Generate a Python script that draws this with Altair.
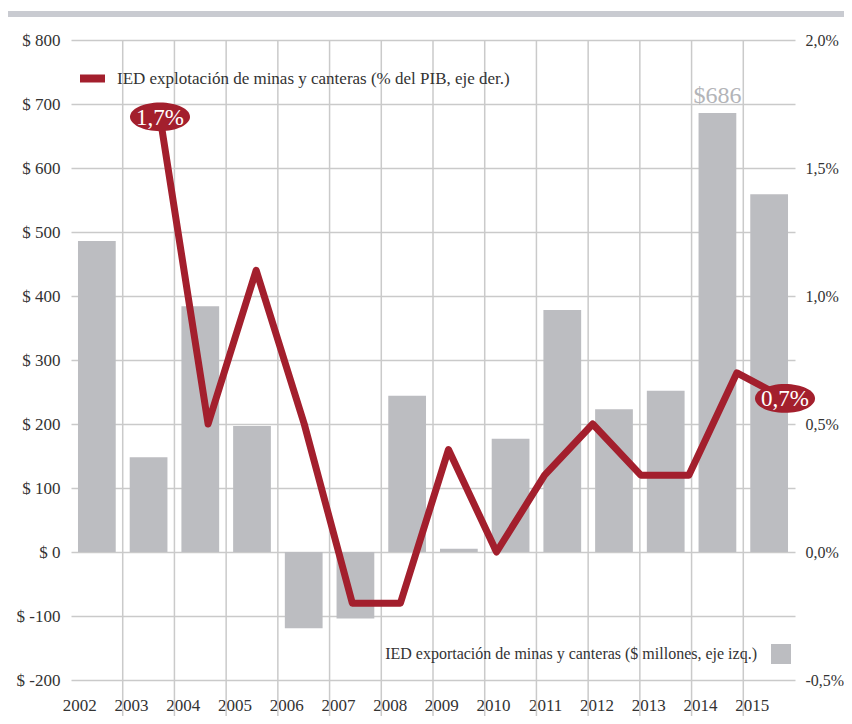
import altair as alt
import pandas as pd

# ---------------- data ----------------
years = [str(y) for y in range(2002, 2016)]
exportacion = [486, 148, 384, 197, -119, -104, 244, 5, 177, 378, 223, 252, 686, 559]
explotacion = [1.7, 0.5, 1.1, 0.5, -0.2, -0.2, 0.4, 0.0, 0.3, 0.5, 0.3, 0.3, 0.7, 0.6]
left_ticks = [-200, -100, 0, 100, 200, 300, 400, 500, 600, 700, 800]
right_ticks = [-0.5, 0.0, 0.5, 1.0, 1.5, 2.0]
name_line = "IED explotación de minas y canteras (% del PIB, eje der.)"
name_bar = "IED exportación de minas y canteras ($ millones, eje izq.)"
callout_years = ["2002", "2015"]
callout_values = [1.7, 0.6]
callout_texts = ["1,7%", "0,7%"]
bar_label_years = ["2014"]
bar_label_values = [686]
bar_label_texts = ["$686"]
separator_years = years[1:]

RED = "#a31f2d"
GRAY_BAR = "#bcbdc1"
GRID = "#cacaca"
TEXT = "#333333"
FONT = "Liberation Serif"

df = pd.DataFrame({"year": years, "val": exportacion, "pct": explotacion,
                   "serie_b": name_bar, "serie_l": name_line})
df_call = pd.DataFrame({"year": callout_years, "pct": callout_values, "label": callout_texts})
df_barlab = pd.DataFrame({"year": bar_label_years, "val": bar_label_values, "label": bar_label_texts})
df_sep = pd.DataFrame({"year": separator_years})

W, H = 724, 640
PAD = {"left": 63, "top": 32, "right": 49, "bottom": 36}

# ---------------- bar group (left axis) ----------------
xb = alt.X("year:N", scale=alt.Scale(domain=years, paddingInner=0, paddingOuter=0),
           axis=alt.Axis(title=None, labelAngle=0, ticks=False, domain=False, grid=False,
                         labelPadding=25, labelFontSize=17))
yb_scale = alt.Scale(domain=[-200, 800], nice=False, zero=False)

top_band = alt.Chart(df_sep).mark_rect(color="#c9cbd1").encode(
    x=alt.value(-63), x2=alt.value(W + 49), y=alt.value(-29), y2=alt.value(-23))

seps = alt.Chart(df_sep).mark_rule(color=GRID, strokeWidth=1.5).encode(
    x=alt.X("year:N", bandPosition=0), y=alt.value(0), y2=alt.value(H + 40))

bars = alt.Chart(df).mark_bar(width=alt.RelativeBandSize(0.73)).encode(
    x=xb,
    y=alt.Y("val:Q", scale=yb_scale,
            axis=alt.Axis(title=None, orient="left", values=left_ticks, ticks=False, domain=False,
                          grid=True, gridColor=GRID, gridWidth=1.5, labelPadding=11,
                          labelExpr="'$ ' + datum.value", labelFontSize=17)),
    fill=alt.Fill("serie_b:N", scale=alt.Scale(domain=[name_bar], range=[GRAY_BAR]),
                  legend=alt.Legend(title=None, orient="none", legendX=700, legendY=604,
                                    symbolType="square", symbolSize=400, symbolStrokeWidth=0,
                                    labelAlign="right", labelOffset={"expr": "-34"}, padding=0,
                                    labelFontSize=16, labelLimit=600)),
)

bar_label = alt.Chart(df_barlab).mark_text(font=FONT, fontSize=24, color="#b3b4b8",
                                           baseline="alphabetic", dy=-10).encode(
    x="year:N", y=alt.Y("val:Q"), text="label:N")

bar_group = alt.layer(top_band, seps, bars, bar_label)

# ---------------- line group (right axis) ----------------
xl = alt.X("year:N", scale=alt.Scale(type="point", domain=years, range=[89, 714], padding=0),
           axis=None)
yl_scale = alt.Scale(domain=[-0.5, 2.0], nice=False, zero=False)

line = alt.Chart(df).mark_line(strokeWidth=7, strokeJoin="round", strokeCap="round").encode(
    x=xl,
    y=alt.Y("pct:Q", scale=yl_scale,
            axis=alt.Axis(title=None, orient="right", values=right_ticks, ticks=False, domain=False,
                          grid=False, labelPadding=10, labelFontSize=16,
                          labelExpr="replace(replace(format(datum.value, '.1f'), '.', ','), '\u2212', '-') + '%'")),
    stroke=alt.Stroke("serie_l:N", scale=alt.Scale(domain=[name_line], range=[RED]),
                      legend=alt.Legend(title=None, orient="none", legendX=5, legendY=22,
                                        symbolType="stroke", symbolSize=625, symbolStrokeWidth=8,
                                        labelOffset=8, padding=0, labelFontSize=17,
                                        labelLimit=600)),
)

ellipse_path = "M-1,0A1,0.48,0,1,0,1,0A1,0.48,0,1,0,-1,0Z"
ellipses = alt.Chart(df_call).mark_point(shape=ellipse_path, size=3600, filled=True,
                                         color=RED, opacity=1, strokeWidth=0).encode(
    x="year:N", y="pct:Q")
call_text = alt.Chart(df_call).mark_text(font=FONT, fontSize=23, color="white",
                                         baseline="middle", dy=1).encode(
    x="year:N", y="pct:Q", text="label:N")

line_group = alt.layer(line, ellipses, call_text)

chart = alt.layer(bar_group, line_group).resolve_scale(
    x="independent", y="independent", fill="independent", stroke="independent"
).properties(
    width=W, height=H,
    padding=PAD,
    autosize=alt.AutoSizeParams(type="none"),
).configure_view(stroke=None).configure_axis(
    labelFont=FONT, labelColor=TEXT
).configure_legend(
    labelFont=FONT, labelColor=TEXT
)

chart.save("out.html", embed_options={"renderer": "svg", "actions": False})
